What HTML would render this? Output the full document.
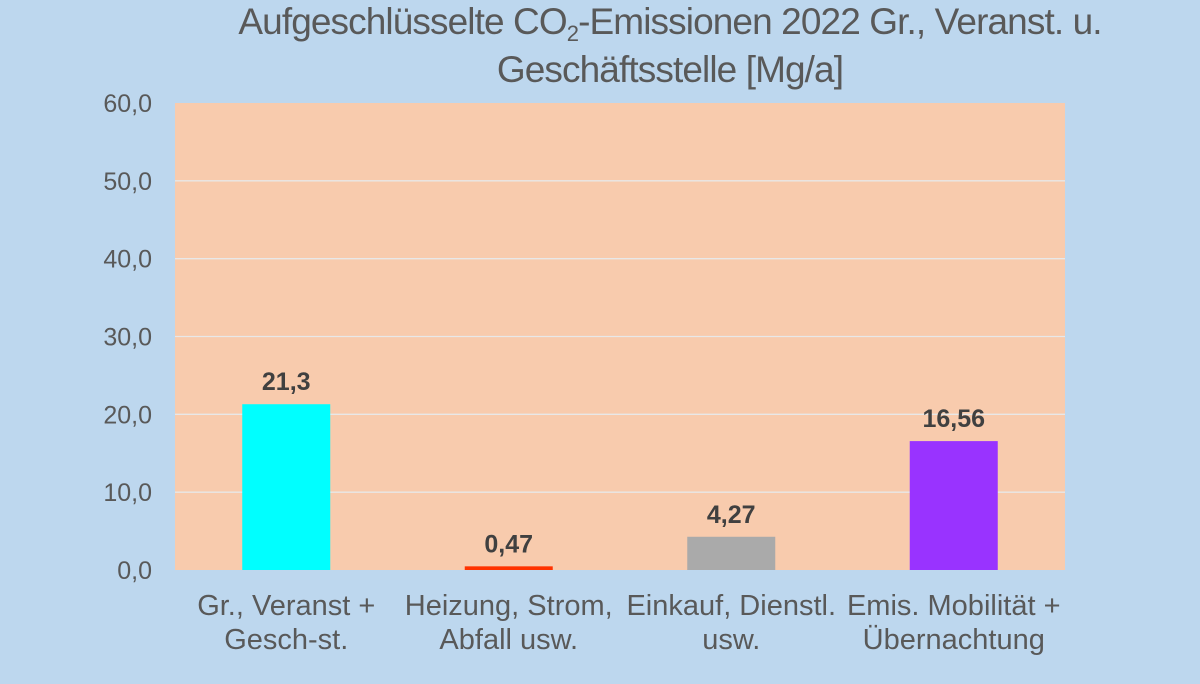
<!DOCTYPE html>
<html><head><meta charset="utf-8"><style>
body{margin:0;background:#bdd7ee;}
svg{display:block;font-family:"Liberation Sans",sans-serif;}
</style></head><body>
<svg id="chart" width="1200" height="684">
<rect x="0" y="0" width="1200" height="684" fill="#bdd7ee"/>
<text x="670" y="34" text-anchor="middle" font-size="37" fill="#595959" letter-spacing="-0.9">Aufgeschlüsselte CO<tspan font-size="22" dy="7">2</tspan><tspan dy="-7">-Emissionen 2022 Gr., Veranst. u.</tspan></text>
<text x="670" y="82" text-anchor="middle" font-size="37" fill="#595959" letter-spacing="-0.9">Geschäftsstelle [Mg/a]</text>
<rect x="175" y="103" width="890" height="467" fill="#f8cbad"/>
<g id="grid"></g><g id="bars"></g><g id="labels"></g>
</svg>
<script>
const categories=[["Gr., Veranst +","Gesch-st."],["Heizung, Strom,","Abfall usw."],["Einkauf, Dienstl.","usw."],["Emis. Mobilität +","Übernachtung"]];
const values=[21.3,0.47,4.27,16.56];
const valueLabels=["21,3","0,47","4,27","16,56"];
const colors=["#00ffff","#ff3300","#aaaaaa","#9933ff"];
const ticks=[0,10,20,30,40,50,60];
const tickLabels=["0,0","10,0","20,0","30,0","40,0","50,0","60,0"];
const NS="http://www.w3.org/2000/svg";
const X0=175,W=890,Y0=570,H=467,MAX=60;
const y=v=>Y0-v/MAX*H;
const bandW=W/categories.length;
const x=i=>X0+bandW*i+bandW/2;
function mk(tag,attrs,parent,text){const e=document.createElementNS(NS,tag);for(const k in attrs)e.setAttribute(k,attrs[k]);if(text!==undefined)e.textContent=text;parent.appendChild(e);return e;}
const grid=document.getElementById('grid'),bars=document.getElementById('bars'),labels=document.getElementById('labels');
ticks.forEach((t,i)=>{
  if(t>0&&t<MAX){const l=mk('line',{x1:X0,x2:X0+W,y1:y(t),y2:y(t),stroke:"#e8e8e8","stroke-width":1.3},grid);
  
  }
  const tx=mk('text',{x:152,y:y(t)+9,"text-anchor":"end","font-size":25,fill:"#595959"},labels,tickLabels[i]);
  
  
});
const bw=88;
values.forEach((v,i)=>{
  const h=Math.max(Y0-y(v),2.5);
  const r=mk('rect',{x:x(i)-bw/2,y:Y0-h,width:bw,height:h,fill:colors[i]},bars);
  
  
  const vl=mk('text',{x:x(i),y:Y0-h-14,"text-anchor":"middle","font-size":25,"font-weight":"bold",fill:"#404040"},labels,valueLabels[i]);
  
  
  categories[i].forEach((line,j)=>{
    const c=mk('text',{x:x(i),y:615+j*34,"text-anchor":"middle","font-size":29,fill:"#595959"},labels,line);
    
    
  });
});
</script>
</body></html>
